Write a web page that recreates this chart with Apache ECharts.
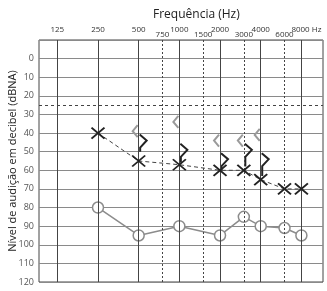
<!DOCTYPE html>
<html><head><meta charset="utf-8">
<script src="https://cdn.jsdelivr.net/npm/echarts@6/dist/echarts.min.js"></script>
<style>html,body{margin:0;padding:0;background:#fff}#c{width:327px;height:291px}</style>
</head><body><div id="c"></div>
<script>
// frequency grid (Hz)
const octaveFreqs = [125, 250, 500, 1000, 2000, 4000, 8000];
const halfFreqs = [750, 1500, 3000, 6000];
// hearing level (dB)
const dbMin = -10, dbMax = 120, dbStep = 10;
const refLevel = 25;
// air conduction X (dashed)
const xFreqs = [250, 500, 1000, 2000, 3000, 4000, 6000, 8000];
const xLevels = [40, 55, 57, 60, 60, 65, 70, 70];
// circles O (solid grey)
const oFreqs = [250, 500, 1000, 2000, 3000, 4000, 6000, 8000];
const oLevels = [80, 95, 90, 95, 85, 90, 91, 95];
// bone conduction "<" (grey)
const lbFreqs = [500, 1000, 2000, 3000, 4000];
const lbLevels = [39, 34, 44, 44, 41];
// bone conduction ">" (dark) with tail end level
const rbFreqs = [500, 1000, 2000, 3000, 4000];
const rbLevels = [44, 49, 54, 49, 54];
const rbTails = [50, 56, 60, 58, 63];

const chart = echarts.init(document.getElementById('c'), null, {renderer: 'canvas'});
const octaveLines = octaveFreqs.map(f => ({
  xAxis: f,
  label: f === 8000
    ? {formatter: '8000 Hz', padding: [0, 0, 0, 10]}
    : {formatter: String(f)}
}));
const halfLines = halfFreqs.map(f => ({xAxis: f, label: {formatter: String(f)}}));

chart.setOption({
  animation: false,
  title: {text: 'Frequência (Hz)', left: 148, top: 4,
    textStyle: {fontSize: 12, fontWeight: 'normal', color: '#222', fontFamily: 'Open Sans'}},
  grid: {left: 39, right: 4, top: 40, bottom: 9, show: true, borderColor: '#444', borderWidth: 1,
    containLabel: false, outerBoundsMode: 'none'},
  xAxis: {type: 'log', logBase: 2, min: 91.5, max: 11560, show: false, splitLine: {show: false}},
  yAxis: {
    type: 'value', inverse: true, min: dbMin, max: dbMax, interval: dbStep,
    name: 'Nível de audição em decibel (dBNA)', nameLocation: 'middle', nameGap: 21,
    nameMoveOverlap: false,
    nameTextStyle: {fontSize: 11, color: '#222', fontFamily: 'Open Sans'},
    axisLine: {show: false}, axisTick: {show: false},
    axisLabel: {fontSize: 9, color: '#555', margin: 5, fontFamily: 'Open Sans',
      formatter: v => (v < 0 ? '' : String(v))},
    splitLine: {show: true, lineStyle: {color: '#8a8a8a', width: 1}}
  },
  series: [
    {
      type: 'line', data: [], silent: true,
      markLine: {
        silent: true, symbol: 'none', animation: false,
        lineStyle: {color: '#444', width: 1, type: 'solid'},
        label: {position: 'start', distance: 6, fontSize: 8, color: '#333', fontFamily: 'Open Sans'},
        emphasis: {disabled: true},
        data: octaveLines
      }
    },
    {
      type: 'line', data: [], silent: true,
      markLine: {
        silent: true, symbol: 'none', animation: false,
        lineStyle: {color: '#444', width: 1, type: [2, 2]},
        label: {position: 'start', distance: 1, fontSize: 8, color: '#333', fontFamily: 'Open Sans'},
        emphasis: {disabled: true},
        data: halfLines
      }
    },
    {
      type: 'line', data: [], silent: true,
      markLine: {
        silent: true, symbol: 'none', animation: false,
        lineStyle: {color: '#444', width: 1, type: [3, 3]},
        label: {show: false},
        emphasis: {disabled: true},
        data: [{yAxis: refLevel}]
      }
    },
    {
      type: 'line', silent: true, z: 3,
      data: oFreqs.map((f, i) => [f, oLevels[i]]),
      lineStyle: {color: '#8c8c8c', width: 1.5},
      symbol: 'circle', symbolSize: 11,
      itemStyle: {color: '#fff', borderColor: '#8c8c8c', borderWidth: 1.5}
    },
    {
      type: 'custom', silent: true, z: 4,
      data: lbFreqs.map((f, i) => [f, lbLevels[i]]),
      renderItem: (params, api) => {
        const p = api.coord([api.value(0), api.value(1)]);
        return {type: 'polyline',
          shape: {points: [[p[0] - 1, p[1] - 6], [p[0] - 6, p[1]], [p[0] - 1, p[1] + 6]]},
          style: {stroke: '#9a9a9a', lineWidth: 2, fill: null}};
      }
    },
    {
      type: 'custom', silent: true, z: 4,
      data: rbFreqs.map((f, i) => [f, rbLevels[i], rbTails[i]]),
      renderItem: (params, api) => {
        const p = api.coord([api.value(0), api.value(1)]);
        const t = api.coord([api.value(0), api.value(2)]);
        return {type: 'polyline',
          shape: {points: [[p[0] + 1, p[1] - 6], [p[0] + 8, p[1]], [p[0] + 1.5, p[1] + 7], [p[0] + 1.5, t[1]]]},
          style: {stroke: '#222', lineWidth: 2, fill: null}};
      }
    },
    {
      type: 'line', silent: true, z: 5,
      data: xFreqs.map((f, i) => [f, xLevels[i]]),
      lineStyle: {color: '#444', width: 1, type: [4, 3]},
      symbol: 'path://M0,0L10,10M10,0L0,10', symbolSize: [13, 11],
      itemStyle: {color: '#222', borderColor: '#222', borderWidth: 1.8}
    }
  ]
});
</script></body></html>
